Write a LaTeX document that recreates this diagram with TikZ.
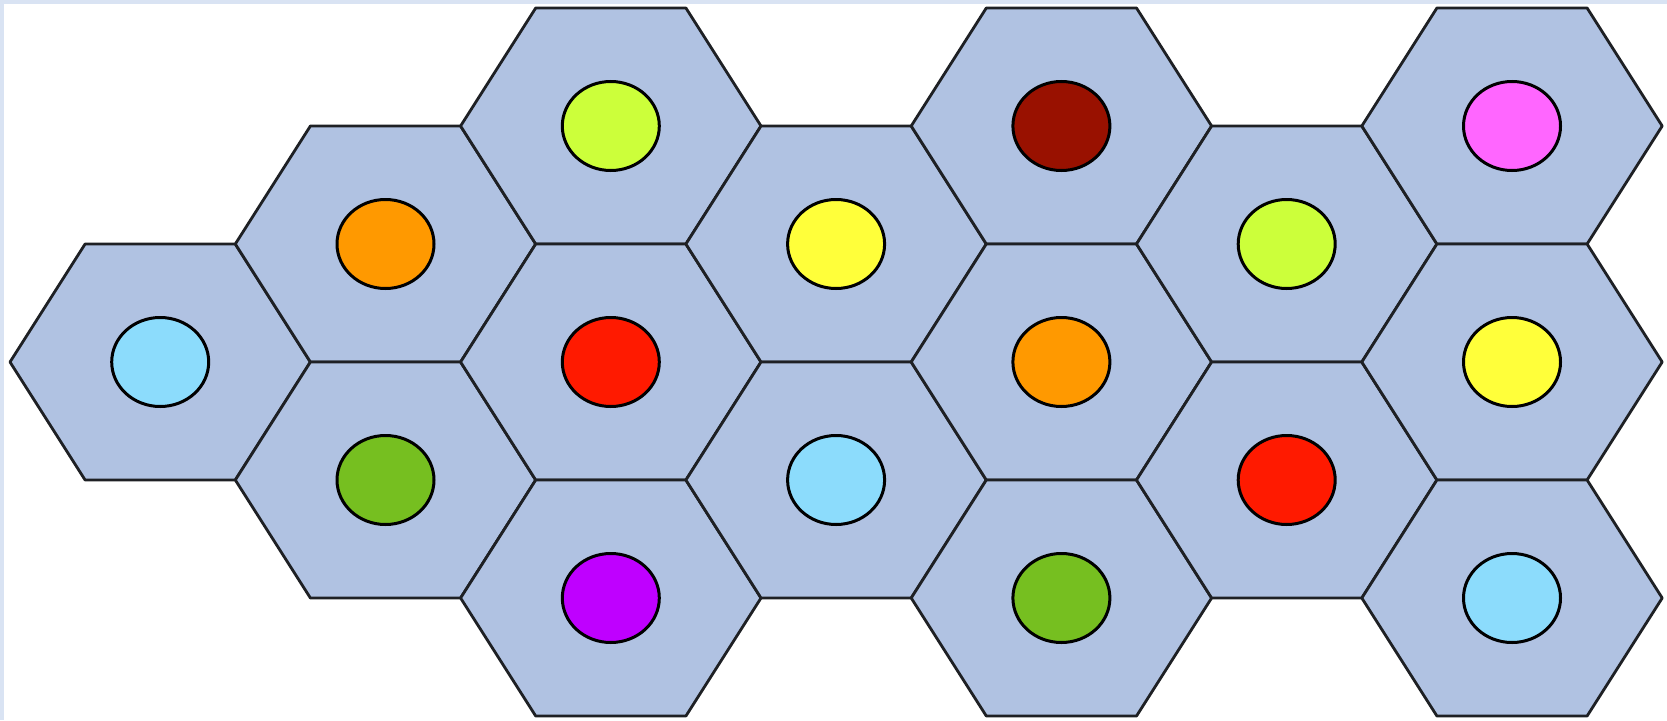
\documentclass[tikz,border=0pt]{standalone}
\definecolor{hexfill}{HTML}{B0C2E2}
\definecolor{hexline}{HTML}{1E2024}
\definecolor{frameblue}{HTML}{D9E3F3}
\definecolor{cLightblue}{HTML}{8CDCFC}
\definecolor{cOrange}{HTML}{FF9900}
\definecolor{cYgreen}{HTML}{CCFF3A}
\definecolor{cRed}{HTML}{FF1A00}
\definecolor{cDarkred}{HTML}{991100}
\definecolor{cMagenta}{HTML}{FF66FF}
\definecolor{cYellow}{HTML}{FFFF3A}
\definecolor{cGreen}{HTML}{76BF20}
\definecolor{cPurple}{HTML}{BF00FF}
\begin{document}
\begin{tikzpicture}[x=1pt,y=-1pt,
  hexshape/.style={fill=hexfill, draw=hexline, line width=2.8pt, line join=round},
  dotshape/.style={draw=black, line width=3pt},
  pics/cell/.style={code={
    \filldraw[hexshape] (-150.2,0) -- (-75.1,-118) -- (75.1,-118) -- (150.2,0)
       -- (75.1,118) -- (-75.1,118) -- cycle;
    \filldraw[dotshape, fill=#1] (0,0) ellipse [x radius=48.5, y radius=44.5];
  }}]
\useasboundingbox (0,0) rectangle (1667,720);
\fill[white] (0,0) rectangle (1667,720);
\fill[frameblue] (0,0) rectangle (1667,4);
\fill[frameblue] (0,0) rectangle (4,720);
% column 0
\pic at (160.2,362) {cell=cLightblue};
% column 1
\pic at (385.5,244) {cell=cOrange};
\pic at (385.5,480) {cell=cGreen};
% column 2
\pic at (610.8,126) {cell=cYgreen};
\pic at (610.8,362) {cell=cRed};
\pic at (610.8,598) {cell=cPurple};
% column 3
\pic at (836.1,244) {cell=cYellow};
\pic at (836.1,480) {cell=cLightblue};
% column 4
\pic at (1061.4,126) {cell=cDarkred};
\pic at (1061.4,362) {cell=cOrange};
\pic at (1061.4,598) {cell=cGreen};
% column 5
\pic at (1286.7,244) {cell=cYgreen};
\pic at (1286.7,480) {cell=cRed};
% column 6
\pic at (1512,126) {cell=cMagenta};
\pic at (1512,362) {cell=cYellow};
\pic at (1512,598) {cell=cLightblue};
\end{tikzpicture}
\end{document}
